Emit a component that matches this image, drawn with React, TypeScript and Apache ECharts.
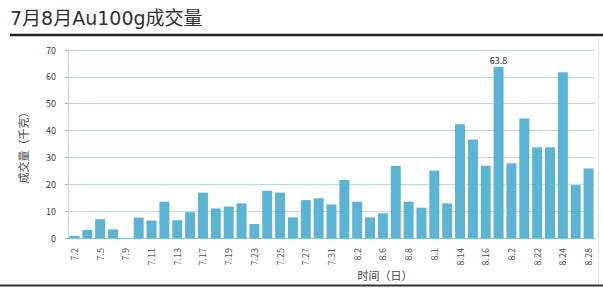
import React, { useEffect, useRef } from "react";
import * as echarts from "echarts";

const chartTitle = "7月8月Au100g成交量";
const xAxisName = "时间（日）";
const yAxisName = "成交量（千克）";

const categories = [
  "7.2", "7.3", "7.5", "7.6", "7.9", "7.10", "7.11", "7.12", "7.13", "7.16",
  "7.17", "7.18", "7.19", "7.20", "7.23", "7.24", "7.25", "7.26", "7.27", "7.30",
  "7.31", "8.1", "8.2", "8.3", "8.6", "8.7", "8.8", "8.9", "8.10", "8.13",
  "8.14", "8.15", "8.16", "8.17", "8.20", "8.21", "8.22", "8.23", "8.24", "8.27",
  "8.28",
];

const volumes = [
  0.8, 3.0, 7.0, 3.2, 0, 7.6, 6.5, 13.5, 6.6, 9.6,
  16.9, 11.0, 11.7, 12.9, 5.2, 17.6, 16.9, 7.7, 14.1, 14.8,
  12.5, 21.6, 13.5, 7.7, 9.2, 26.8, 13.5, 11.3, 25.1, 12.9,
  42.4, 36.7, 26.9, 63.8, 27.8, 44.5, 33.8, 33.8, 61.7, 19.7,
  25.9,
];

const yMin = 0;
const yMax = 70;
const yStep = 10;

export default function App() {
  const ref = useRef<HTMLDivElement>(null);
  useEffect(() => {
    if (!ref.current) return;
    const chart = echarts.init(ref.current, null, { renderer: "svg" });
    const maxVal = Math.max(...volumes);
    const font = "'Noto Sans CJK SC', 'DejaVu Sans', sans-serif";
    chart.setOption({
      animation: false,
      backgroundColor: "#ffffff",
      textStyle: { fontFamily: font },
      grid: { left: 68, right: 8, top: 50, bottom: 50, containLabel: false },
      xAxis: {
        type: "category",
        data: categories,
        boundaryGap: true,
        axisLine: { show: true, lineStyle: { color: "#7fc3dc", width: 1 } },
        axisTick: { show: false },
        axisLabel: {
          interval: 1,
          rotate: 90,
          fontSize: 9,
          color: "#555",
          margin: 10,
          formatter: (v: string) => String(parseFloat(v)),
        },
        splitLine: { show: false },
      },
      yAxis: {
        type: "value",
        min: yMin,
        max: yMax,
        interval: yStep,
        axisLine: { show: true, lineStyle: { color: "#c9d6dc", width: 1 } },
        axisTick: { show: true, length: 3, lineStyle: { color: "#b0b0b0" } },
        axisLabel: { fontSize: 9, color: "#444", margin: 12 },
        splitLine: { show: true, lineStyle: { color: "#b6dcec", width: 1 } },
      },
      series: [
        {
          type: "bar",
          data: volumes,
          barWidth: 10,
          itemStyle: { color: "#5cb3d2" },
          label: {
            show: true,
            position: "top",
            distance: 2,
            fontSize: 9,
            color: "#333",
            formatter: (p: any) => (p.value === maxVal ? String(p.value) : ""),
          },
        },
      ],
      graphic: [
        {
          type: "text",
          left: 10,
          top: 8,
          style: {
            text: chartTitle,
            fontSize: 19,
            fontFamily: "'DejaVu Sans', 'Noto Sans CJK SC', sans-serif",
            fill: "#333",
          },
        },
        {
          type: "line",
          shape: { x1: 10, y1: 35, x2: 603, y2: 35 },
          style: { stroke: "#222", lineWidth: 2.5 },
        },
        {
          type: "line",
          shape: { x1: 0, y1: 285.5, x2: 603, y2: 285.5 },
          style: { stroke: "#333", lineWidth: 2 },
        },
        {
          type: "line",
          shape: { x1: 598.5, y1: 38, x2: 598.5, y2: 284 },
          style: { stroke: "#e2e2e2", lineWidth: 1 },
        },
        {
          type: "text",
          x: 23,
          y: 145,
          rotation: Math.PI / 2,
          style: {
            text: yAxisName,
            fontSize: 11,
            fontFamily: font,
            fill: "#444",
            align: "center",
            verticalAlign: "middle",
          },
        },
        {
          type: "text",
          x: 385,
          y: 275,
          style: {
            text: xAxisName,
            fontSize: 11,
            fontFamily: font,
            fill: "#444",
            align: "center",
            verticalAlign: "middle",
          },
        },
      ],
    });
    return () => chart.dispose();
  }, []);
  return (
    <div
      ref={ref}
      style={{ position: "fixed", left: 0, top: 0, width: 603, height: 288 }}
    />
  );
}
